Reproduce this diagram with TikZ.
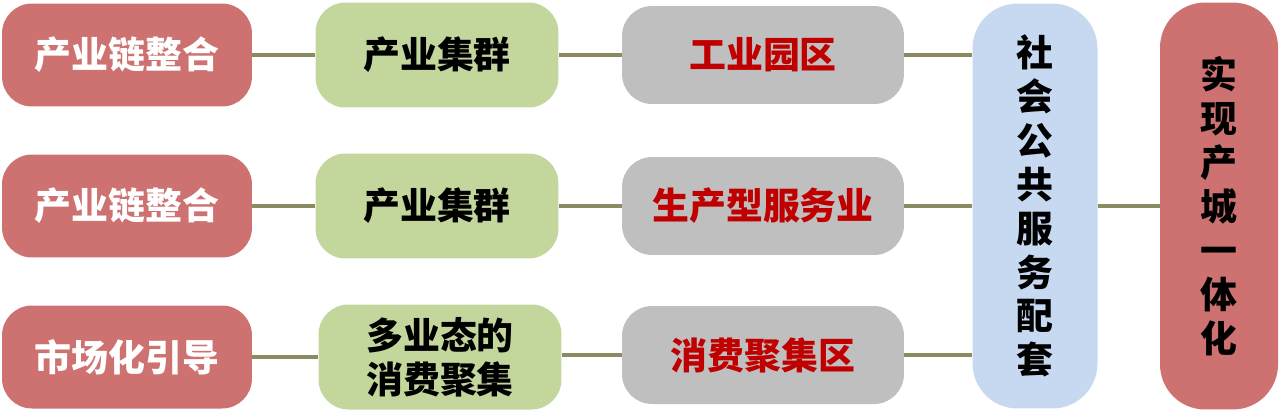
\documentclass[tikz,border=0pt]{standalone}
\usepackage{fontspec}
\setmainfont{Noto Sans CJK SC}[BoldFont={Noto Sans CJK SC Black}]
\usepackage{tikz}
\definecolor{chainred}{RGB}{205,114,112}
\definecolor{clustergreen}{RGB}{195,214,155}
\definecolor{parkgray}{RGB}{191,191,191}
\definecolor{serviceblue}{RGB}{198,217,241}
\definecolor{linkolive}{RGB}{140,138,96}
\definecolor{parkred}{RGB}{192,0,0}

\begin{document}
\begin{tikzpicture}[x=0.02cm, y=-0.02cm,
    box/.style={rounded corners=0.6cm, inner sep=0pt, align=center,
      font=\bfseries\fontsize{21}{25}\selectfont},
    redbox/.style={box, fill=chainred, text=white,
      minimum width=5cm, minimum height=2.06cm},
    greenbox/.style={box, fill=clustergreen, text=black,
      minimum width=4.86cm, minimum height=2.1cm},
    graybox/.style={box, fill=parkgray, text=parkred,
      minimum width=5.64cm, minimum height=1.96cm},
    tallbox/.style={box, rounded corners=0.9cm, text=black,
      minimum height=8.1cm},
    link/.style={draw=linkolive, line width=0.08cm}]
  \useasboundingbox (0,0) rectangle (1280,413);
  % Row 1
  \node[redbox]   (r1) at (127,55)  {产业链整合};
  \node[greenbox] (g1) at (437,55)  {产业集群};
  \node[graybox]  (p1) at (763,55)  {工业园区};
  % Row 2
  \node[redbox]   (r2) at (127,206) {产业链整合};
  \node[greenbox] (g2) at (437,206) {产业集群};
  \node[graybox]  (p2) at (763,206) {生产型服务业};
  % Row 3
  \node[redbox]   (r3) at (127,357) {市场化引导};
  \node[greenbox] (g3) at (440,357) {多业态的\\消费聚集};
  \node[graybox]  (p3) at (763,355) {消费聚集区};
  % Public services and goal
  \node[tallbox, fill=serviceblue, minimum width=2.5cm]
    (svc) at (1035,206) {社\\会\\公\\共\\服\\务\\配\\套};
  \node[tallbox, fill=chainred, minimum width=2.36cm, minimum height=8.14cm]
    (goal) at (1219,206) {实\\现\\产\\城\\一\\体\\化};
  % Links
  \foreach \i in {1,2,3} {
    \draw[link] (r\i) -- (g\i);
    \draw[link] (g\i.east |- p\i.west) -- (p\i.west);
    \draw[link] (p\i.east) -- (svc.west |- p\i.east);
  }
  \draw[link] (svc) -- (goal);
\end{tikzpicture}
\end{document}
